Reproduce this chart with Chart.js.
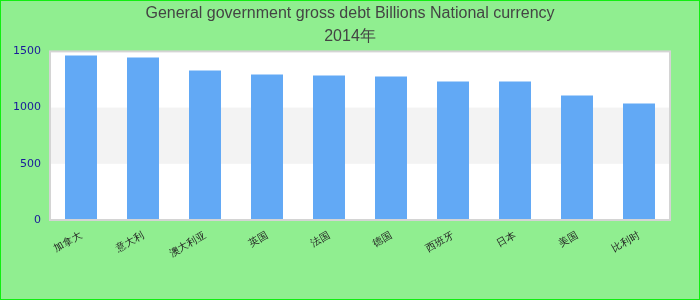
<!DOCTYPE html>
<html>
<head>
<meta charset="UTF-8">
<title>General government gross debt</title>
<script src="https://cdn.jsdelivr.net/npm/chart.js"></script>
<style>
  html, body { margin: 0; padding: 0; background: #90ee90; }
  #wrap { width: 700px; height: 300px; }
</style>
</head>
<body>
<div id="wrap"><canvas id="debtChart" width="700" height="300"></canvas></div>
<script>
// data
const categories = ['加拿大', '意大利', '澳大利亚', '英国', '法国', '德国', '西班牙', '日本', '美国', '比利时'];
const debtValues = [1464, 1446, 1330, 1295, 1286, 1277, 1232, 1232, 1107, 1036];
const yTicks = [0, 500, 1000, 1500];
const titleLines = ['General government gross debt Billions National currency', '2014年'];

// background, outer border, plot box and the 500-1000 band
const backdrop = {
    id: 'backdrop',
    beforeDraw(chart) {
        const ctx = chart.ctx;
        const area = chart.chartArea;
        const y = chart.scales.y;
        ctx.save();
        ctx.fillStyle = '#90ee90';
        ctx.fillRect(0, 0, chart.width, chart.height);
        ctx.strokeStyle = '#11ee11';
        ctx.lineWidth = 1;
        ctx.strokeRect(0.5, 0.5, chart.width - 1, chart.height - 1);
        ctx.fillStyle = '#ffffff';
        ctx.fillRect(area.left, area.top, area.right - area.left, area.bottom - area.top);
        const b1 = y.getPixelForValue(yTicks[2]);
        const b0 = y.getPixelForValue(yTicks[1]);
        ctx.fillStyle = '#f3f3f3';
        ctx.fillRect(area.left, b1, area.right - area.left, b0 - b1);
        ctx.restore();
    },
    afterDatasetsDraw(chart) {
        const ctx = chart.ctx;
        const area = chart.chartArea;
        ctx.save();
        ctx.strokeStyle = '#d4d4d4';
        ctx.lineWidth = 2;
        ctx.strokeRect(area.left, area.top, area.right - area.left, area.bottom - area.top);
        ctx.restore();
    }
};

const ctx = document.getElementById('debtChart').getContext('2d');
const debtChart = new Chart(ctx, {
    type: 'bar',
    data: {
        labels: categories,
        datasets: [{
            data: debtValues,
            backgroundColor: '#62a9f5',
            borderWidth: 0,
            barPercentage: 0.516,
            categoryPercentage: 1
        }]
    },
    options: {
        responsive: false,
        animation: false,
        layout: { padding: { top: 0, right: 30, bottom: 0, left: 0 } },
        plugins: {
            legend: { display: false },
            tooltip: { enabled: false },
            title: {
                display: true,
                text: titleLines,
                color: '#444444',
                font: { family: 'Liberation Sans, Arial, sans-serif', size: 16, weight: 'normal', lineHeight: 1.45 },
                padding: { top: 2, bottom: 3 }
            }
        },
        scales: {
            x: {
                grid: { display: false },
                border: { display: false },
                ticks: {
                    color: '#222222',
                    font: { family: 'DejaVu Sans, sans-serif', size: 10 },
                    minRotation: 30,
                    maxRotation: 30,
                    padding: 2
                },
                afterFit(scale) { scale.height = 80; }
            },
            y: {
                min: 0,
                max: 1500,
                grid: { display: false },
                border: { display: false },
                afterBuildTicks(scale) { scale.ticks = yTicks.map(v => ({ value: v })); },
                ticks: {
                    color: '#1a1a9a',
                    font: { family: 'DejaVu Sans, sans-serif', size: 11 },
                    padding: 1,
                    callback: v => String(v)
                },
                afterFit(scale) { scale.width = 50; }
            }
        }
    },
    plugins: [backdrop, {
        // centre the title over the whole canvas, as in the reference
        id: 'titleCentre',
        afterLayout(chart) {
            const t = chart.titleBlock;
            if (t) { t.left = 0; t.right = chart.width; t.width = chart.width; }
        }
    }]
});
</script>
</body>
</html>
